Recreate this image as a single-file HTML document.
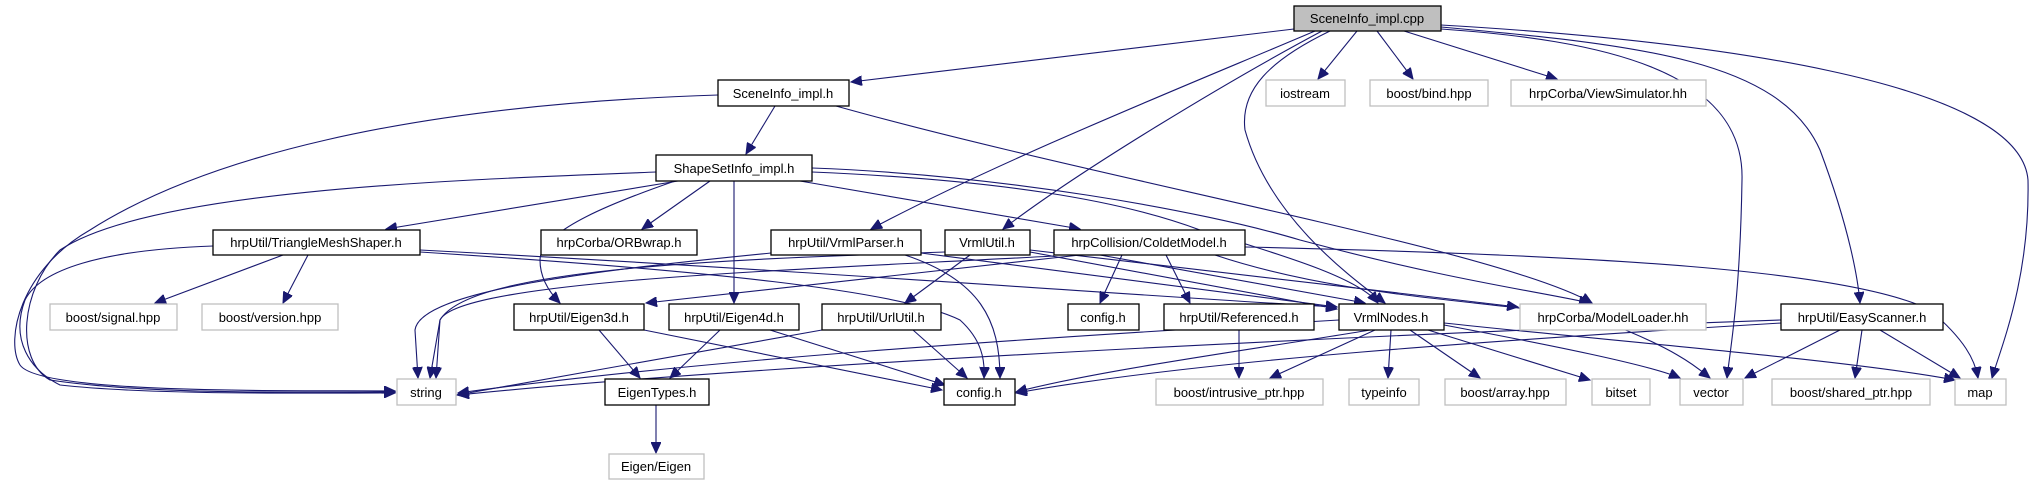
<!DOCTYPE html>
<html><head><meta charset="utf-8"><style>
html,body{margin:0;padding:0;background:#fff;}
svg{display:block;}
text{font-family:"Liberation Sans",sans-serif;font-size:13px;fill:#000;text-anchor:middle;}
.n{fill:#fff;stroke:#000;stroke-width:1.3;}
.g{fill:#fff;stroke:#bfbfbf;stroke-width:1.3;}
path{fill:none;stroke:#191970;stroke-width:1.1;}
</style></head><body>
<svg width="2037" height="485" viewBox="0 0 2037 485" xmlns="http://www.w3.org/2000/svg">
<defs><marker id="a" markerUnits="userSpaceOnUse" markerWidth="12" markerHeight="10" refX="11" refY="5" orient="auto"><path d="M0,0 L11,5 L0,10 Z" style="fill:#191970;stroke:#191970;stroke-width:1"/></marker></defs>
<g marker-end="url(#a)">
<path d="M1294,29 L851,82"/>
<path d="M1357,31 L1318,79"/>
<path d="M1377,31 L1413,79"/>
<path d="M1404,31 L1557,79"/>
<path d="M1315,31 C1200,80 1000,160 871,229"/>
<path d="M1322,31 C1230,80 1080,170 1003,229"/>
<path d="M1330,31 C1270,60 1240,90 1245,130 C1270,220 1355,280 1385,303"/>
<path d="M1441,29 C1600,40 1745,70 1742,180 C1740,300 1730,350 1727,378"/>
<path d="M1441,27 C1640,45 1780,60 1820,150 C1850,230 1858,280 1860,303"/>
<path d="M1441,25 C1700,40 2020,80 2028,180 C2030,280 2000,350 1992,378"/>
<path d="M775,106 L746,154"/>
<path d="M836,106 C1100,180 1500,250 1592,303"/>
<path d="M718,95 C400,105 200,160 90,230 C20,270 5,340 20,365 C40,395 300,390 395,391"/>
<path d="M656,172 C450,180 150,190 60,250 C20,290 15,360 50,380 C150,395 300,392 395,392"/>
<path d="M678,181 L386,229"/>
<path d="M710,181 L642,229"/>
<path d="M675,181 C620,200 540,230 540,260 C540,280 552,295 560,303"/>
<path d="M734,181 L734,303"/>
<path d="M800,181 L1080,229"/>
<path d="M812,172 C1000,180 1120,200 1200,230 C1300,260 1360,280 1378,303"/>
<path d="M812,168 C1000,175 1200,210 1300,240 C1450,280 1530,290 1590,303"/>
<path d="M283,255 L155,303"/>
<path d="M308,255 L283,303"/>
<path d="M213,246 C100,250 40,270 25,300 C10,340 30,370 60,385 C150,395 300,393 395,393"/>
<path d="M420,250 C800,270 1200,300 1337,307"/>
<path d="M420,252 C700,270 900,290 960,320 C982,340 985,360 984,378"/>
<path d="M771,253 C600,270 420,290 415,330 L418,378"/>
<path d="M905,255 C980,280 1000,320 1000,378"/>
<path d="M921,253 L1337,307"/>
<path d="M970,255 L905,303"/>
<path d="M945,252 C700,260 470,270 440,320 L430,378"/>
<path d="M1030,252 L1337,309"/>
<path d="M1030,250 L1518,307"/>
<path d="M1080,255 L646,303"/>
<path d="M1122,255 L1100,303"/>
<path d="M1166,255 L1190,303"/>
<path d="M1100,255 L1365,303"/>
<path d="M1215,255 C1350,300 1500,300 1600,320 C1680,350 1700,370 1710,378"/>
<path d="M1245,247 C1600,255 1850,270 1930,310 C1965,340 1975,360 1978,378"/>
<path d="M1054,256 C800,270 460,280 440,320 L436,378"/>
<path d="M599,330 L640,378"/>
<path d="M644,330 L942,390"/>
<path d="M720,330 L670,378"/>
<path d="M770,330 L945,385"/>
<path d="M822,330 L457,395"/>
<path d="M913,330 L967,378"/>
<path d="M1239,330 L1239,378"/>
<path d="M1339,320 C1000,340 700,360 458,393"/>
<path d="M1370,330 C1250,350 1100,370 1016,392"/>
<path d="M1375,330 L1270,378"/>
<path d="M1391,330 L1388,378"/>
<path d="M1410,330 L1480,378"/>
<path d="M1428,330 L1590,380"/>
<path d="M1444,325 C1550,345 1650,365 1680,378"/>
<path d="M1444,323 C1600,340 1850,360 1955,380"/>
<path d="M1781,320 C1500,330 800,360 458,395"/>
<path d="M1781,323 C1500,340 1200,360 1016,393"/>
<path d="M1840,330 L1745,378"/>
<path d="M1862,330 L1855,378"/>
<path d="M1880,330 L1960,378"/>
<path d="M656,405 L656,453"/>
</g>
<rect x="1294" y="6" width="147" height="25" style="fill:#bfbfbf;stroke:#000;stroke-width:1.3"/><text x="1367" y="23">SceneInfo_impl.cpp</text>
<rect class="n" x="718" y="80" width="131" height="26"/><text x="783" y="98">SceneInfo_impl.h</text>
<rect class="g" x="1266" y="80" width="79" height="26"/><text x="1305" y="98">iostream</text>
<rect class="g" x="1370" y="80" width="118" height="26"/><text x="1429" y="98">boost/bind.hpp</text>
<rect class="g" x="1511" y="80" width="195" height="26"/><text x="1608" y="98">hrpCorba/ViewSimulator.hh</text>
<rect class="n" x="656" y="155" width="156" height="26"/><text x="734" y="173">ShapeSetInfo_impl.h</text>
<rect class="n" x="213" y="230" width="207" height="25"/><text x="316" y="247">hrpUtil/TriangleMeshShaper.h</text>
<rect class="n" x="541" y="230" width="156" height="25"/><text x="619" y="247">hrpCorba/ORBwrap.h</text>
<rect class="n" x="771" y="230" width="150" height="25"/><text x="846" y="247">hrpUtil/VrmlParser.h</text>
<rect class="n" x="945" y="230" width="85" height="25"/><text x="987" y="247">VrmlUtil.h</text>
<rect class="n" x="1054" y="230" width="191" height="25"/><text x="1149" y="247">hrpCollision/ColdetModel.h</text>
<rect class="g" x="50" y="304" width="127" height="26"/><text x="113" y="322">boost/signal.hpp</text>
<rect class="g" x="202" y="304" width="136" height="26"/><text x="270" y="322">boost/version.hpp</text>
<rect class="n" x="514" y="304" width="130" height="26"/><text x="579" y="322">hrpUtil/Eigen3d.h</text>
<rect class="n" x="669" y="304" width="130" height="26"/><text x="734" y="322">hrpUtil/Eigen4d.h</text>
<rect class="n" x="822" y="304" width="119" height="26"/><text x="881" y="322">hrpUtil/UrlUtil.h</text>
<rect class="n" x="1068" y="304" width="71" height="26"/><text x="1103" y="322">config.h</text>
<rect class="n" x="1164" y="304" width="150" height="26"/><text x="1239" y="322">hrpUtil/Referenced.h</text>
<rect class="n" x="1339" y="304" width="105" height="26"/><text x="1391" y="322">VrmlNodes.h</text>
<rect class="g" x="1520" y="304" width="186" height="26"/><text x="1613" y="322">hrpCorba/ModelLoader.hh</text>
<rect class="n" x="1781" y="304" width="162" height="26"/><text x="1862" y="322">hrpUtil/EasyScanner.h</text>
<rect class="g" x="397" y="379" width="59" height="26"/><text x="426" y="397">string</text>
<rect class="n" x="605" y="379" width="104" height="26"/><text x="657" y="397">EigenTypes.h</text>
<rect class="n" x="944" y="379" width="71" height="26"/><text x="979" y="397">config.h</text>
<rect class="g" x="1156" y="379" width="167" height="26"/><text x="1239" y="397">boost/intrusive_ptr.hpp</text>
<rect class="g" x="1349" y="379" width="70" height="26"/><text x="1384" y="397">typeinfo</text>
<rect class="g" x="1445" y="379" width="121" height="26"/><text x="1505" y="397">boost/array.hpp</text>
<rect class="g" x="1592" y="379" width="58" height="26"/><text x="1621" y="397">bitset</text>
<rect class="g" x="1680" y="379" width="63" height="26"/><text x="1711" y="397">vector</text>
<rect class="g" x="1772" y="379" width="158" height="26"/><text x="1851" y="397">boost/shared_ptr.hpp</text>
<rect class="g" x="1955" y="379" width="51" height="26"/><text x="1980" y="397">map</text>
<rect class="g" x="609" y="454" width="95" height="25"/><text x="656" y="471">Eigen/Eigen</text>
</svg>
</body></html>
